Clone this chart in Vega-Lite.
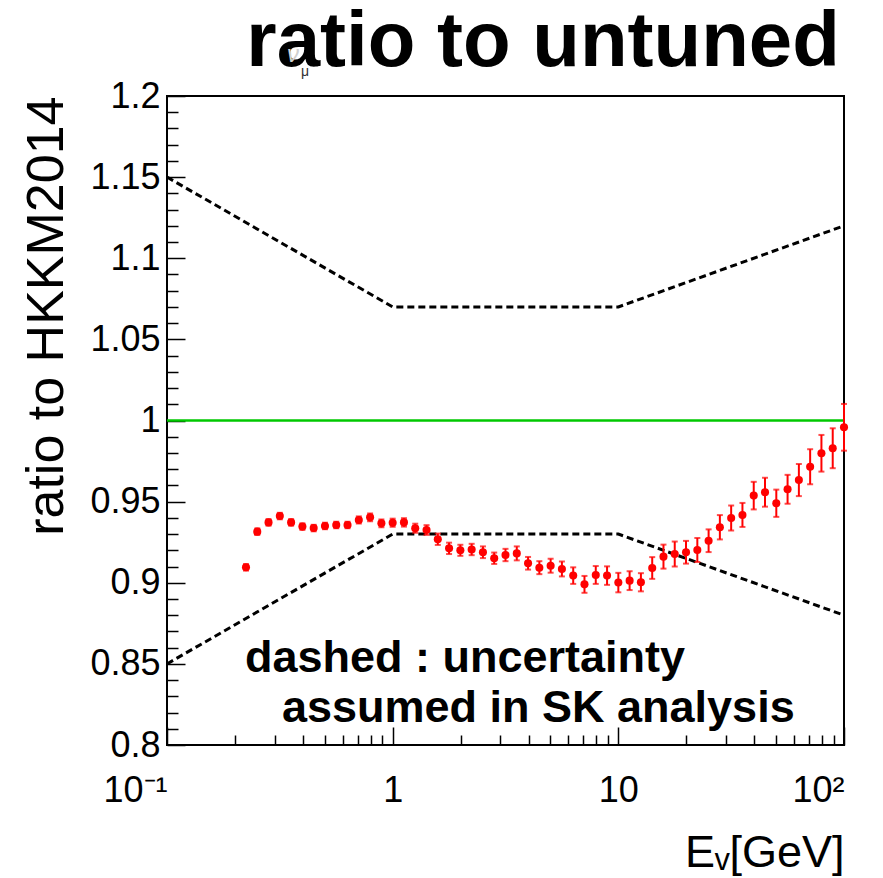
{
  "$schema": "https://vega.github.io/schema/vega-lite/v6.json",
  "width": 677,
  "height": 649,
  "autosize": {"type": "none"},
  "padding": {"left": 167, "top": 96, "right": 39, "bottom": 133},
  "background": "white",
  "datasets": {
    "band": [
      {"E": 0.1, "r": 1.15, "side": "upper"},
      {"E": 1, "r": 1.07, "side": "upper"},
      {"E": 10, "r": 1.07, "side": "upper"},
      {"E": 100, "r": 1.12, "side": "upper"},
      {"E": 0.1, "r": 0.85, "side": "lower"},
      {"E": 1, "r": 0.93, "side": "lower"},
      {"E": 10, "r": 0.93, "side": "lower"},
      {"E": 100, "r": 0.88, "side": "lower"}
    ],
    "ratio": [
      {"E": 0.2239, "r": 0.9095, "err": 0.002},
      {"E": 0.2512, "r": 0.9315, "err": 0.002},
      {"E": 0.2818, "r": 0.9372, "err": 0.002},
      {"E": 0.3162, "r": 0.9411, "err": 0.002},
      {"E": 0.3548, "r": 0.9372, "err": 0.002},
      {"E": 0.3981, "r": 0.9346, "err": 0.002},
      {"E": 0.4467, "r": 0.9337, "err": 0.002},
      {"E": 0.5012, "r": 0.935, "err": 0.002},
      {"E": 0.5623, "r": 0.9356, "err": 0.002},
      {"E": 0.631, "r": 0.9356, "err": 0.002},
      {"E": 0.7079, "r": 0.9387, "err": 0.0022},
      {"E": 0.7943, "r": 0.9403, "err": 0.0024},
      {"E": 0.8913, "r": 0.9366, "err": 0.0024},
      {"E": 1.0, "r": 0.937, "err": 0.0025},
      {"E": 1.122, "r": 0.9372, "err": 0.0026},
      {"E": 1.259, "r": 0.9336, "err": 0.0028},
      {"E": 1.413, "r": 0.9325, "err": 0.003},
      {"E": 1.585, "r": 0.9268, "err": 0.0035},
      {"E": 1.778, "r": 0.9212, "err": 0.0035},
      {"E": 1.995, "r": 0.92, "err": 0.0034},
      {"E": 2.239, "r": 0.9205, "err": 0.0035},
      {"E": 2.512, "r": 0.9188, "err": 0.0036},
      {"E": 2.818, "r": 0.9151, "err": 0.0035},
      {"E": 3.162, "r": 0.9171, "err": 0.0038},
      {"E": 3.548, "r": 0.9181, "err": 0.0043},
      {"E": 3.981, "r": 0.912, "err": 0.0039},
      {"E": 4.467, "r": 0.9093, "err": 0.004},
      {"E": 5.012, "r": 0.9105, "err": 0.0043},
      {"E": 5.623, "r": 0.9085, "err": 0.0046},
      {"E": 6.31, "r": 0.9044, "err": 0.0051},
      {"E": 7.079, "r": 0.899, "err": 0.0052},
      {"E": 7.943, "r": 0.9048, "err": 0.0055},
      {"E": 8.913, "r": 0.9044, "err": 0.0057},
      {"E": 10.0, "r": 0.9001, "err": 0.006},
      {"E": 11.22, "r": 0.9013, "err": 0.0058},
      {"E": 12.59, "r": 0.9003, "err": 0.0056},
      {"E": 14.13, "r": 0.9091, "err": 0.0067},
      {"E": 15.85, "r": 0.9161, "err": 0.0074},
      {"E": 17.78, "r": 0.9177, "err": 0.0077},
      {"E": 19.95, "r": 0.9188, "err": 0.007},
      {"E": 22.39, "r": 0.9202, "err": 0.0074},
      {"E": 25.12, "r": 0.9259, "err": 0.007},
      {"E": 28.18, "r": 0.9342, "err": 0.0075},
      {"E": 31.62, "r": 0.9399, "err": 0.0077},
      {"E": 35.48, "r": 0.9418, "err": 0.0074},
      {"E": 39.81, "r": 0.9537, "err": 0.0085},
      {"E": 44.67, "r": 0.9558, "err": 0.0089},
      {"E": 50.12, "r": 0.949, "err": 0.0084},
      {"E": 56.23, "r": 0.9576, "err": 0.0089},
      {"E": 63.1, "r": 0.9633, "err": 0.0099},
      {"E": 70.79, "r": 0.9715, "err": 0.0108},
      {"E": 79.43, "r": 0.9798, "err": 0.0113},
      {"E": 89.13, "r": 0.9829, "err": 0.0123},
      {"E": 100.0, "r": 0.9958, "err": 0.0144}
    ],
    "one": [{}]
  },
  "layer": [
    {
      "data": {"name": "band"},
      "mark": {"type": "line", "color": "black", "strokeWidth": 3, "strokeDash": [7, 4], "clip": true},
      "encoding": {
        "x": {
          "field": "E",
          "type": "quantitative",
          "title": "Eᵥ[GeV]",
          "scale": {"type": "log", "domain": [0.1, 100], "nice": false},
          "axis": {
            "orient": "bottom",
            "values": [0.1, 0.2, 0.3, 0.4, 0.5, 0.6, 0.7, 0.8, 0.9, 1, 2, 3, 4, 5, 6, 7, 8, 9, 10, 20, 30, 40, 50, 60, 70, 80, 90, 100],
            "tickCount": 200,
            "tickSize": {"condition": {"test": "abs(log(datum.value)/LN10 - round(log(datum.value)/LN10)) < 1e-6", "value": -18}, "value": -10},
            "labelExpr": "datum.value == 0.1 ? '10⁻¹' : datum.value == 1 ? '1' : datum.value == 10 ? '10' : datum.value == 100 ? '10²' : ''",
            "labelAlign": {"condition": {"test": "datum.value == 0.1 || datum.value == 100", "value": "right"}, "value": "center"},
            "labelPadding": 46,
            "labelFontSize": 36,
            "labelOverlap": false,
            "labelFlush": false,
            "titleAnchor": "end",
            "titleFontSize": 45,
            "titleFontWeight": "normal",
            "titlePadding": 14
          }
        },
        "y": {
          "field": "r",
          "type": "quantitative",
          "title": "ratio to HKKM2014",
          "scale": {"domain": [0.8, 1.2], "nice": false, "zero": false},
          "axis": {
            "orient": "left",
            "values": [0.8, 0.81, 0.82, 0.83, 0.84, 0.85, 0.86, 0.87, 0.88, 0.89, 0.9, 0.91, 0.92, 0.93, 0.94, 0.95, 0.96, 0.97, 0.98, 0.99, 1, 1.01, 1.02, 1.03, 1.04, 1.05, 1.06, 1.07, 1.08, 1.09, 1.1, 1.11, 1.12, 1.13, 1.14, 1.15, 1.16, 1.17, 1.18, 1.19, 1.2],
            "tickCount": 200,
            "tickSize": {"condition": {"test": "abs(datum.value*20 - round(datum.value*20)) < 1e-6", "value": -18}, "value": -11},
            "labelExpr": "abs(datum.value*20 - round(datum.value*20)) < 1e-6 ? format(datum.value, '~g') : ''",
            "labelPadding": 25,
            "labelFontSize": 36,
            "labelOverlap": false,
            "labelFlush": false,
            "titleAnchor": "end",
            "titleFontSize": 52,
            "titleFontWeight": "normal",
            "titlePadding": 16
          }
        },
        "detail": {"field": "side"}
      }
    },
    {
      "data": {"name": "one"},
      "mark": {"type": "rule", "color": "#00c800", "strokeWidth": 2.5},
      "encoding": {"y": {"datum": 1}}
    },
    {
      "data": {"name": "ratio"},
      "mark": {"type": "errorbar", "ticks": true, "size": 6, "thickness": 2, "color": "#ff0000"},
      "encoding": {
        "x": {"field": "E", "type": "quantitative", "title": "Eᵥ[GeV]"},
        "y": {"field": "r", "type": "quantitative", "title": "ratio to HKKM2014"},
        "yError": {"field": "err"}
      }
    },
    {
      "data": {"name": "ratio"},
      "mark": {"type": "circle", "color": "#ff0000", "size": 65, "opacity": 1},
      "encoding": {
        "x": {"field": "E", "type": "quantitative", "title": "Eᵥ[GeV]"},
        "y": {"field": "r", "type": "quantitative", "title": "ratio to HKKM2014"}
      }
    },
    {
      "data": {"name": "one"},
      "mark": {"type": "text", "text": "dashed : uncertainty", "align": "left", "baseline": "alphabetic", "fontSize": 45, "fontWeight": "bold", "font": "Liberation Sans", "color": "black"},
      "encoding": {"x": {"datum": 0.2216}, "y": {"datum": 0.845}}
    },
    {
      "data": {"name": "one"},
      "mark": {"type": "text", "text": "assumed in SK analysis", "align": "left", "baseline": "alphabetic", "fontSize": 45, "fontWeight": "bold", "font": "Liberation Sans", "color": "black"},
      "encoding": {"x": {"datum": 0.3231}, "y": {"datum": 0.8142}}
    },
    {
      "data": {"name": "one"},
      "mark": {"type": "text", "text": "ratio to untuned", "align": "right", "baseline": "alphabetic", "fontSize": 78, "fontWeight": "bold", "font": "Liberation Sans", "color": "black"},
      "encoding": {"x": {"datum": 95.9}, "y": {"datum": 1.2182}}
    },
    {
      "data": {"name": "one"},
      "mark": {"type": "text", "text": "ν", "align": "center", "baseline": "alphabetic", "fontSize": 24, "fontStyle": "italic", "font": "Liberation Sans", "color": "#d0d0d0"},
      "encoding": {"x": {"datum": 0.3616}, "y": {"datum": 1.221}}
    },
    {
      "data": {"name": "one"},
      "mark": {"type": "text", "text": "μ", "align": "center", "baseline": "alphabetic", "fontSize": 14, "font": "Liberation Sans", "color": "#333333"},
      "encoding": {"x": {"datum": 0.4087}, "y": {"datum": 1.2123}}
    }
  ],
  "config": {
    "font": "Liberation Sans",
    "view": {"stroke": "black", "strokeWidth": 2},
    "axis": {
      "domain": false,
      "grid": false,
      "tickColor": "black",
      "tickWidth": 1.5,
      "labelColor": "black",
      "titleColor": "black",
      "labelFont": "Liberation Sans",
      "titleFont": "Liberation Sans"
    }
  }
}
